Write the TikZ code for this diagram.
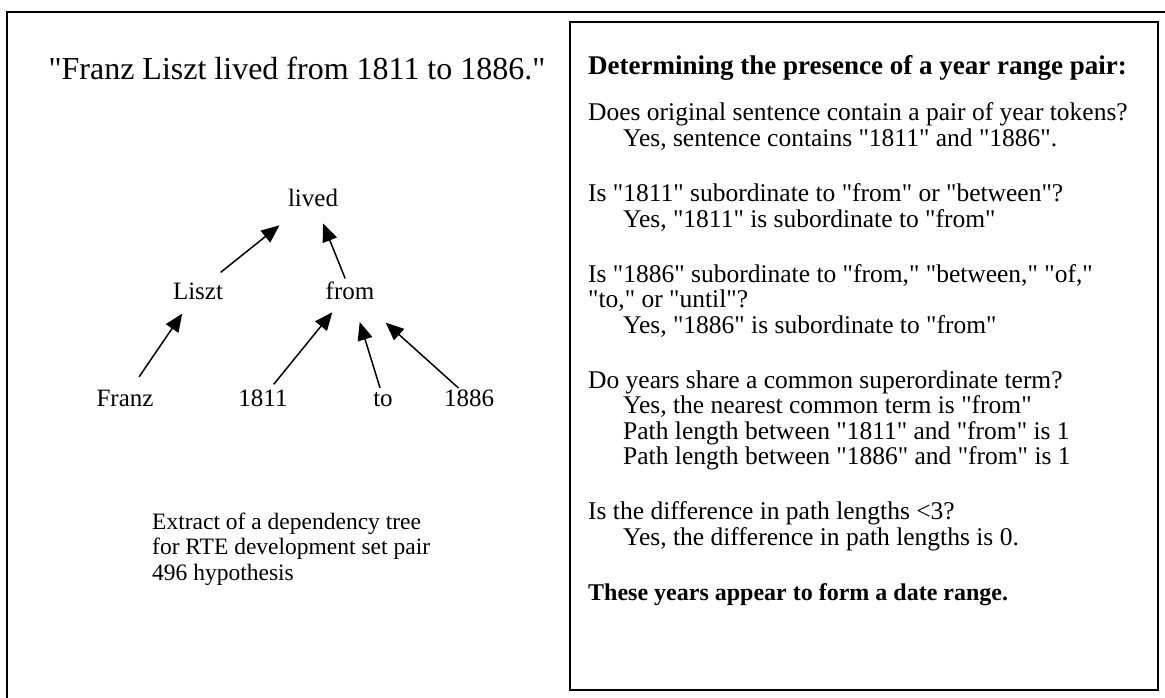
\documentclass[tikz,border=0pt]{standalone}
\usepackage{fontspec}
\setmainfont{Liberation Serif}[Ligatures=TeXOff]
\usetikzlibrary{arrows.meta}
\tikzset{
  word/.style  = {font=\fontsize{25}{30}\selectfont, inner sep=0pt,
                  text height=17pt, text depth=0pt},
  dep/.style   = {-{Triangle[length=18pt,width=15pt]}, line width=1.5pt},
  capline/.style = {font=\fontsize{23.5}{28}\selectfont, anchor=base west, inner sep=0pt},
  rline/.style = {font=\fontsize{25.5}{28}\selectfont, anchor=base west, inner sep=0pt},
  rbold/.style = {rline, font=\fontsize{24}{28}\selectfont\bfseries},
  frame/.style = {line width=1.8pt}
}
\newcommand{\ind}{\hspace*{35pt}}

\begin{document}
\begin{tikzpicture}[x=1pt,y=-1pt]
\useasboundingbox (0,0) rectangle (1165,698);
% outer frame (runs off the right and bottom)
\draw[frame] (1165,12) -- (7,12) -- (7,698);
% rule box
\draw[frame, line width=1.5pt] (570,22) rectangle (1158,690);

% sentence
\node[font=\fontsize{32}{38}\selectfont, anchor=base, inner sep=0pt] (sent) at (297,80)
  {"Franz Liszt lived from 1811 to 1886."};

% dependency tree
\node[word] (lived) at (313,198.5) {lived};
\node[word] (liszt) at (198,290.5) {Liszt};
\node[word] (from)  at (350,290.5) {from};
\node[word] (franz) at (125,397.5) {Franz};
\node[word] (y1811) at (263,397.5) {1811};
\node[word] (to)    at (383,397.5) {to};
\node[word] (y1886) at (469,397.5) {1886};

\draw[dep, shorten <=29pt, shorten >=43pt] (liszt.center) -- (lived.center);
\draw[dep, shorten <=13pt, shorten >=27pt] (from.center)  -- (lived.center);
\draw[dep, shorten <=25pt, shorten >=28pt] (franz.center) -- (liszt.center);
\draw[dep, shorten <=17pt, shorten >=28pt] (y1811.center) -- (from.center);
\draw[dep, shorten <=10pt, shorten >=33pt] (to.center)    -- (from.center);
\draw[dep, shorten <=14pt, shorten >=48pt] (y1886.center) -- (from.center);

% caption
\node[capline] (cap1) at (152,529)   {Extract of a dependency tree};
\node[capline] (cap2) at (152,554.5) {for RTE development set pair};
\node[capline] (cap3) at (152,580)   {496 hypothesis};

% rule checks
\node[rbold, font=\fontsize{27}{32}\selectfont\bfseries] (head) at (588,75)
  {Determining the presence of a year range pair:};
\foreach \yy/\txt [count=\i] in {
  121/{Does original sentence contain a pair of year tokens?},
  146.5/{\ind Yes, sentence contains "1811" and "1886".},
  201.5/{Is "1811" subordinate to "from" or "between"?},
  227/{\ind Yes, "1811" is subordinate to "from"},
  282/{Is "1886" subordinate to "from," "between," "of,"},
  307.5/{"to," or "until"?},
  333/{\ind Yes, "1886" is subordinate to "from"},
  388/{Do years share a common superordinate term?},
  413.5/{\ind Yes, the nearest common term is "from"},
  439/{\ind Path length between "1811" and "from" is 1},
  464.5/{\ind Path length between "1886" and "from" is 1},
  519.5/{Is the difference in path lengths <3?},
  545/{\ind Yes, the difference in path lengths is 0.}}
  \node[rline] (q\i) at (588,\yy) {\txt};
\node[rbold] (concl) at (588,600) {These years appear to form a date range.};
\end{tikzpicture}
\end{document}
